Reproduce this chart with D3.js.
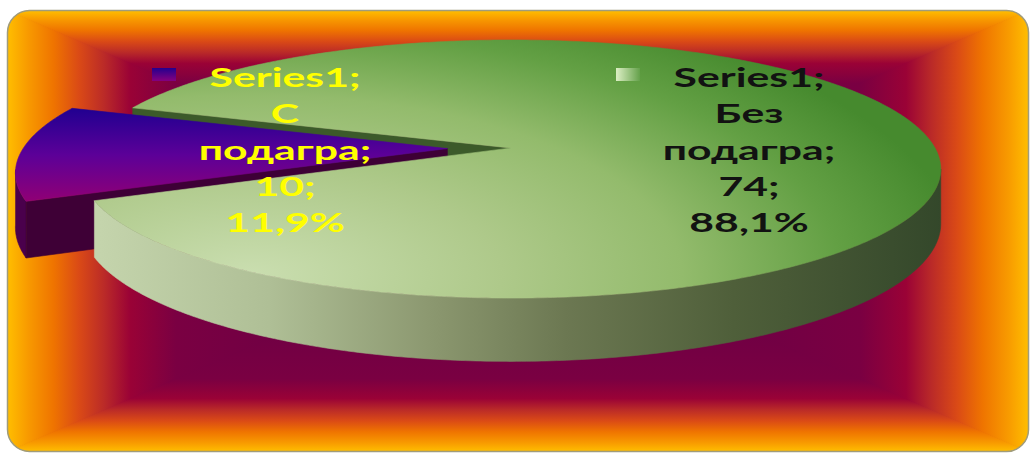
<!DOCTYPE html>
<html>
<head>
<meta charset="utf-8">
<script src="https://cdn.jsdelivr.net/npm/d3@7"></script>
<style>
  html, body { margin: 0; padding: 0; background: #ffffff; overflow: hidden; }
  text { font-family: Lato, "Open Sans", sans-serif; font-weight: 700; }
</style>
</head>
<body>
<svg id="chart" width="1030" height="454"></svg>
<script>
// ---- data ----
const seriesName = "Series1";
const categories = ["С подагра", "Без подагра"];
const values = [10, 74];

// ---- styling ----
const labelColors = ["#ffff00", "#121212"];
const sliceExplode = [0.15, 0];           // fraction of the radius
const firstSliceMidAngle = 268.3 * Math.PI / 180; // clockwise from 12 o'clock

const svg = d3.select("#chart");
const defs = svg.append("defs");
const W = 1030, H = 454;

// ---- frame & rectangular path-gradient background ----
const frame = { x: 7.5, y: 10.5, w: 1021, h: 441, r: 22 };
defs.append("clipPath").attr("id", "frameClip")
  .append("rect")
  .attr("x", frame.x).attr("y", frame.y)
  .attr("width", frame.w).attr("height", frame.h)
  .attr("rx", frame.r).attr("ry", frame.r);

const bgStops = [
  [0.00, "#ffbe00"], [0.04, "#f89a00"], [0.09, "#ef7400"], [0.14, "#da4a16"],
  [0.19, "#ba2a28"], [0.24, "#9a0236"], [0.33, "#7a0042"], [1.00, "#5c0048"]
];
const x0 = frame.x, x1 = frame.x + frame.w, y0 = frame.y, y1 = frame.y + frame.h;
const bcx = (x0 + x1) / 2, bcy = (y0 + y1) / 2;
const sides = [
  { id: "bgT", pts: [[x0, y0], [x1, y0], [bcx, bcy]], g: [bcx, y0, bcx, bcy] },
  { id: "bgB", pts: [[x0, y1], [x1, y1], [bcx, bcy]], g: [bcx, y1, bcx, bcy] },
  { id: "bgL", pts: [[x0, y0], [x0, y1], [bcx, bcy]], g: [x0, bcy, bcx, bcy] },
  { id: "bgR", pts: [[x1, y0], [x1, y1], [bcx, bcy]], g: [x1, bcy, bcx, bcy] }
];
sides.forEach(s => {
  const lg = defs.append("linearGradient").attr("id", s.id)
    .attr("gradientUnits", "userSpaceOnUse")
    .attr("x1", s.g[0]).attr("y1", s.g[1]).attr("x2", s.g[2]).attr("y2", s.g[3]);
  bgStops.forEach(([o, c]) => lg.append("stop").attr("offset", o).attr("stop-color", c));
});
const bg = svg.append("g").attr("clip-path", "url(#frameClip)");
bg.append("rect").attr("x", x0).attr("y", y0).attr("width", frame.w).attr("height", frame.h)
  .attr("fill", "#5c0048");
bg.selectAll("path.bgside").data(sides).join("path")
  .attr("class", "bgside")
  .attr("d", s => d3.line()(s.pts) + "Z")
  .attr("fill", s => `url(#${s.id})`)
  .attr("stroke", s => `url(#${s.id})`)
  .attr("stroke-width", 1);
svg.append("rect")
  .attr("x", frame.x).attr("y", frame.y).attr("width", frame.w).attr("height", frame.h)
  .attr("rx", frame.r).attr("ry", frame.r)
  .attr("fill", "none").attr("stroke", "#a09c7c").attr("stroke-width", 1.5);

// ---- gradients for the pie ----
function linGrad(id, coords, stops) {
  const g = defs.append("linearGradient").attr("id", id).attr("gradientUnits", "userSpaceOnUse")
    .attr("x1", coords[0]).attr("y1", coords[1]).attr("x2", coords[2]).attr("y2", coords[3]);
  stops.forEach(([o, c]) => g.append("stop").attr("offset", o).attr("stop-color", c));
}
const gTop = defs.append("radialGradient").attr("id", "greenTop")
  .attr("gradientUnits", "userSpaceOnUse")
  .attr("cx", 0).attr("cy", 0).attr("r", 1)
  .attr("gradientTransform", "translate(250,275) scale(720,300)");
[[0, "#cadeb0"], [0.35, "#aec98a"], [0.6, "#93bb6c"], [0.82, "#63a044"], [1, "#468a2e"]]
  .forEach(([o, c]) => gTop.append("stop").attr("offset", o).attr("stop-color", c));
linGrad("greenWall", [100, 0, 945, 0],
  [[0, "#c4d4ac"], [0.2, "#afbf96"], [0.4, "#8a966e"], [0.55, "#6c7852"], [0.75, "#4f5f3a"], [1, "#33472a"]]);
linGrad("purpleTop", [0, 105, 0, 205],
  [[0, "#1c0090"], [0.5, "#5c0098"], [1, "#940072"]]);
linGrad("purpleKey", [0, 67, 0, 80], [[0, "#1c0090"], [1, "#800080"]]);
linGrad("greenKey", [617, 0, 642, 0], [[0, "#d8ecc0"], [1, "#5a9a40"]]);

const sliceStyle = [
  { top: "url(#purpleTop)", wall: "#4a004c", face: "#3e0036", key: "url(#purpleKey)" },
  { top: "url(#greenTop)", wall: "url(#greenWall)", face: "#3c5a2a", key: "url(#greenKey)" }
];

// ---- 3-D pie projection ----
const CX = 511, CY = 148, RX = 424, RY = 125.6, PERSP = 0.163, DEPTH = 53;
function project(u, v, h) {
  const w = 1 - PERSP * v;
  return [CX + RX * u / w, CY + (RY * v + DEPTH * h) / w];
}
const total = d3.sum(values);
const startAngle = firstSliceMidAngle - Math.PI * values[0] / total;
const arcs = d3.pie().sort(null).value(d => d)
  .startAngle(startAngle).endAngle(startAngle + 2 * Math.PI)(values);

arcs.forEach((a, i) => {
  const mid = (a.startAngle + a.endAngle) / 2;
  a.off = [sliceExplode[i] * Math.sin(mid), -sliceExplode[i] * Math.cos(mid)];
});
const rimPt = (a, ang, h) => project(a.off[0] + Math.sin(ang), a.off[1] - Math.cos(ang), h);
const ctrPt = (a, h) => project(a.off[0], a.off[1], h);
const samples = (s, e) => d3.range(0, 1.0001, 1 / Math.max(2, Math.ceil((e - s) / 0.01))).map(t => s + (e - s) * t);
const line = d3.line();

function topPath(a) {
  return line([ctrPt(a, 0), ...samples(a.startAngle, a.endAngle).map(t => rimPt(a, t, 0))]) + "Z";
}
// visible part of the outer wall: where the rim faces the viewer
const visLo = Math.PI / 2 + Math.asin(PERSP), visHi = 3 * Math.PI / 2 - Math.asin(PERSP);
function wallPath(a) {
  for (let k = -2; k <= 2; k++) {
    const lo = Math.max(a.startAngle, visLo + 2 * Math.PI * k);
    const hi = Math.min(a.endAngle, visHi + 2 * Math.PI * k);
    if (hi > lo) {
      const ts = samples(lo, hi);
      return line([...ts.map(t => rimPt(a, t, 0)), ...ts.slice().reverse().map(t => rimPt(a, t, 1))]) + "Z";
    }
  }
  return null;
}
function facePath(a, ang) {
  return line([ctrPt(a, 0), rimPt(a, ang, 0), rimPt(a, ang, 1), ctrPt(a, 1)]) + "Z";
}
function faceVisible(a, ang, isStart) {
  const n = isStart ? [-Math.cos(ang), -Math.sin(ang)] : [Math.cos(ang), Math.sin(ang)];
  const m = [a.off[0] + 0.5 * Math.sin(ang), a.off[1] - 0.5 * Math.cos(ang)];
  return n[0] * (0 - m[0]) + n[1] * (1 / PERSP - m[1]) > 0;
}

const pieG = svg.append("g");
const purple = arcs[0], green = arcs[1];
const layers = [];
if (faceVisible(green, green.startAngle, true)) layers.push({ d: facePath(green, green.startAngle), f: sliceStyle[1].face });
if (faceVisible(green, green.endAngle, false)) layers.push({ d: facePath(green, green.endAngle), f: sliceStyle[1].face });
layers.push({ d: wallPath(purple), f: sliceStyle[0].wall });
if (faceVisible(purple, purple.startAngle, true)) layers.push({ d: facePath(purple, purple.startAngle), f: sliceStyle[0].face });
if (faceVisible(purple, purple.endAngle, false)) layers.push({ d: facePath(purple, purple.endAngle), f: sliceStyle[0].face });
layers.push({ d: topPath(purple), f: sliceStyle[0].top });
layers.push({ d: wallPath(green), f: sliceStyle[1].wall });
layers.push({ d: topPath(green), f: sliceStyle[1].top });

pieG.selectAll("path").data(layers.filter(l => l.d)).join("path")
  .attr("d", l => l.d).attr("fill", l => l.f)
  .attr("stroke", l => l.f).attr("stroke-width", 0.6).attr("stroke-linejoin", "round");

// ---- data labels ----
const pct = v => d3.format(".1f")(100 * v / total).replace(".", ",") + "%";
const labelLines = categories.map((c, i) => {
  const words = c.split(" ");
  words[words.length - 1] += ";";
  return [seriesName + ";", ...words, values[i] + ";", pct(values[i])];
});
const labelCenters = [285, 749];
const firstBaseline = 87, lineStep = 36.3, fontSize = 27, targetWidth = 151;

labelLines.forEach((lines, i) => {
  const g = svg.append("g");
  const t = g.selectAll("text").data(lines).join("text")
    .attr("x", 0).attr("y", (d, j) => firstBaseline + j * lineStep)
    .attr("text-anchor", "middle")
    .attr("font-size", fontSize)
    .attr("fill", labelColors[i])
    .text(d => d);
  const w0 = t.nodes()[0].getComputedTextLength();
  const sx = targetWidth / w0;
  g.attr("transform", `translate(${labelCenters[i]},0) scale(${sx},1)`);
  // legend key in front of the first line
  svg.append("rect")
    .attr("x", labelCenters[i] - 133).attr("y", firstBaseline - 19)
    .attr("width", 24).attr("height", 13)
    .attr("fill", sliceStyle[i].key);
});
</script>
</body>
</html>
